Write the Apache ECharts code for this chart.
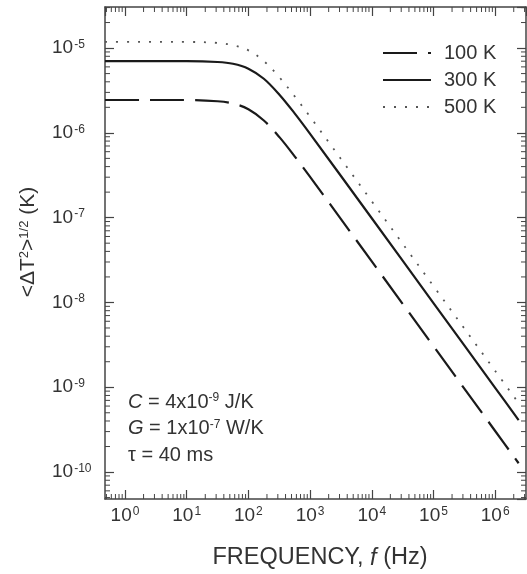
<!DOCTYPE html>
<html><head><meta charset="utf-8">
<script src="https://cdn.jsdelivr.net/npm/echarts@6/dist/echarts.min.js"></script>
<style>html,body{margin:0;padding:0;background:#fff}#c{width:527px;height:574px}</style>
</head><body><div id="c"></div>
<script>
// ---- data ----
const frequencies = [0.474, 1, 10, 31.6, 56.2, 100, 178, 316, 562, 1000, 1e4, 1e5, 1e6, 2.4e6];
const noise100K = [2.44e-6, 2.44e-6, 2.44e-6, 2.36e-6, 2.22e-6, 1.90e-6, 1.40e-6, 8.96e-7, 5.29e-7, 3.03e-7, 3.05e-8, 3.05e-9, 3.05e-10, 1.27e-10];
const noise300K = [7.0e-6, 7.0e-6, 7.0e-6, 6.85e-6, 6.53e-6, 5.72e-6, 4.35e-6, 2.84e-6, 1.70e-6, 9.75e-7, 9.84e-8, 9.84e-9, 9.84e-10, 4.1e-10];
const noise500K = [1.18e-5, 1.18e-5, 1.18e-5, 1.15e-5, 1.08e-5, 9.4e-6, 7.03e-6, 4.55e-6, 2.70e-6, 1.55e-6, 1.56e-7, 1.56e-8, 1.56e-9, 6.5e-10];
const seriesNames = ['100 K', '300 K', '500 K'];
const xDecades = [-1, 0, 1, 2, 3, 4, 5, 6];          // decades holding minor ticks
const yDecades = [-11, -10, -9, -8, -7, -6, -5];
const minorMultipliers = [2, 3, 4, 5, 6, 7, 8, 9];
const annotationLines = [
  '{i|C} = 4x10{s|-9} J/K',
  '{i|G} = 1x10{s|-7} W/K',
  'τ = 40 ms'
];
const xTitle = 'FREQUENCY, {i|f} (Hz)';
const yTitle = '<ΔT{s|2}>{s|1/2} (K)';

const X_MIN = 0.474, X_MAX = 3.16e6;
const Y_MIN = 4.81e-11, Y_MAX = 3.05e-5;
const FONT = '"Liberation Sans", Arial, sans-serif';
const INK = '#333';
const AXIS = '#444';

const xMinor = [];
xDecades.forEach(d => minorMultipliers.forEach(m => { const v = m * Math.pow(10, d); if (v > X_MIN && v < X_MAX) xMinor.push(v); }));
const yMinor = [];
yDecades.forEach(d => minorMultipliers.forEach(m => { const v = m * Math.pow(10, d); if (v > Y_MIN && v < Y_MAX) yMinor.push(v); }));

function pow10Label(v) {
  const l = Math.log10(v), e = Math.round(l);
  if (Math.abs(l - e) > 1e-6) return '';
  return '10{s|' + e + '}';
}
const labelRich = { s: { fontSize: 12, fontFamily: FONT, color: INK, verticalAlign: 'top', padding: [0, 0, 0, 1] } };

const chart = echarts.init(document.getElementById('c'), null, { renderer: 'canvas' });

function baseAxis(extra) {
  return Object.assign({
    type: 'log', logBase: 10,
    axisLine: { show: true, lineStyle: { color: AXIS, width: 1.5 } },
    axisTick: { show: true, inside: true, length: 9, lineStyle: { color: AXIS, width: 1.2 } },
    splitLine: { show: false },
    minorTick: { show: false }
  }, extra);
}

const toPair = arr => frequencies.map((f, i) => [f, arr[i]]);

chart.setOption({
  animation: false,
  backgroundColor: '#fff',
  textStyle: { fontFamily: FONT },
  grid: { left: 105, top: 7, right: 1, bottom: 75 },
  xAxis: [
    baseAxis({
      position: 'bottom', min: X_MIN, max: X_MAX,
      axisLabel: { show: true, margin: 7, fontSize: 19, color: INK, fontFamily: FONT, showMinLabel: false, showMaxLabel: false, formatter: pow10Label, rich: labelRich }
    }),
    baseAxis({ position: 'top', min: X_MIN, max: X_MAX, axisLabel: { show: false } })
  ],
  yAxis: [
    baseAxis({
      position: 'left', min: Y_MIN, max: Y_MAX,
      axisLabel: { show: true, margin: 53, align: 'left', fontSize: 19, color: INK, fontFamily: FONT, showMinLabel: false, showMaxLabel: false, formatter: pow10Label, rich: labelRich }
    }),
    baseAxis({ position: 'right', min: Y_MIN, max: Y_MAX, axisLabel: { show: false } })
  ],
  legend: {
    data: seriesNames, orient: 'vertical', left: 377, top: 38,
    itemWidth: 48, itemHeight: 14, itemGap: 7, selectedMode: false,
    itemStyle: { opacity: 0 },
    textStyle: { fontSize: 20, color: INK, fontFamily: FONT, padding: [0, 0, 0, 8] }
  },
  graphic: annotationLines.map((t, i) => ({
    type: 'text', left: 128, top: 392 + i * 26.5,
    style: {
      text: t, fill: INK, font: '20px ' + FONT,
      rich: {
        i: { fontStyle: 'italic', fontSize: 20, fontFamily: FONT, fill: INK },
        s: { fontSize: 12, fontFamily: FONT, fill: INK, verticalAlign: 'top' }
      }
    }
  })).concat([
    { type: 'text', x: 320, y: 558,
      style: { text: xTitle, fill: INK, font: '23.5px ' + FONT, align: 'center', verticalAlign: 'middle',
        rich: { i: { fontStyle: 'italic', fontSize: 23.5, fontFamily: FONT, fill: INK } } } },
    { type: 'text', x: 28, y: 242, rotation: Math.PI / 2,
      style: { text: yTitle, fill: INK, font: '21px ' + FONT, align: 'center', verticalAlign: 'middle',
        rich: { s: { fontSize: 13, fontFamily: FONT, fill: INK, verticalAlign: 'top' } } } }
  ]),
  series: [
    { name: seriesNames[0], type: 'line', data: toPair(noise100K), smooth: 0.35, symbol: 'none',
      lineStyle: { color: '#1a1a1a', width: 2.2, type: [34, 11] }, itemStyle: { color: '#1a1a1a' } },
    { name: seriesNames[1], type: 'line', data: toPair(noise300K), smooth: 0.35, symbol: 'none',
      lineStyle: { color: '#1a1a1a', width: 2.2, type: 'solid' }, itemStyle: { color: '#1a1a1a' } },
    { name: seriesNames[2], type: 'line', data: toPair(noise500K), smooth: 0.35, symbol: 'none',
      lineStyle: { color: '#555', width: 1.8, type: [2, 9] }, itemStyle: { color: '#555' } },
    { type: 'custom', coordinateSystem: 'cartesian2d', silent: true, clip: false,
      data: xMinor.map(v => [v, Y_MIN]),
      renderItem: (params, api) => {
        const v = api.value(0);
        const b = api.coord([v, Y_MIN]), t = api.coord([v, Y_MAX]);
        const st = { stroke: AXIS, lineWidth: 1 };
        return { type: 'group', children: [
          { type: 'line', shape: { x1: b[0], y1: b[1], x2: b[0], y2: b[1] - 5 }, style: st },
          { type: 'line', shape: { x1: t[0], y1: t[1], x2: t[0], y2: t[1] + 5 }, style: st }
        ] };
      } },
    { type: 'custom', coordinateSystem: 'cartesian2d', silent: true, clip: false,
      data: yMinor.map(v => [X_MIN, v]),
      renderItem: (params, api) => {
        const v = api.value(1);
        const l = api.coord([X_MIN, v]), r = api.coord([X_MAX, v]);
        const st = { stroke: AXIS, lineWidth: 1 };
        return { type: 'group', children: [
          { type: 'line', shape: { x1: l[0], y1: l[1], x2: l[0] + 5, y2: l[1] }, style: st },
          { type: 'line', shape: { x1: r[0], y1: r[1], x2: r[0] - 5, y2: r[1] }, style: st }
        ] };
      } }
  ]
});
</script>
</body></html>
